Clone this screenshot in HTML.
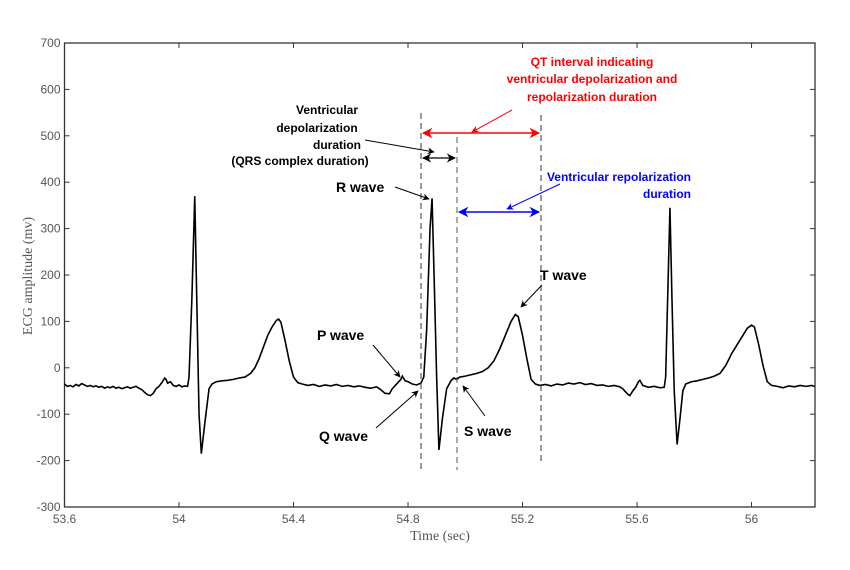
<!DOCTYPE html>
<html><head><meta charset="utf-8"><style>
body{margin:0;background:#fff;width:850px;height:570px;overflow:hidden}
svg{display:block;font-family:"Liberation Sans",sans-serif}
.tk{font-size:12px;fill:#555}
.an{font-size:12px;font-weight:bold}
.wl{font-size:14px;font-weight:bold}
</style></head><body>
<svg id="c" width="850" height="570">
<defs>
<marker id="ak" viewBox="0 0 10 10" refX="9" refY="5" markerWidth="9" markerHeight="7" orient="auto-start-reverse"><path d="M0,0 L10,5 L0,10 L3,5z" fill="#000"/></marker>
<marker id="ar" viewBox="0 0 10 10" refX="9" refY="5" markerWidth="9" markerHeight="7" orient="auto-start-reverse"><path d="M0,0 L10,5 L0,10 L3,5z" fill="#f00"/></marker>
<marker id="ab" viewBox="0 0 10 10" refX="9" refY="5" markerWidth="9" markerHeight="7" orient="auto-start-reverse"><path d="M0,0 L10,5 L0,10 L3,5z" fill="#00f"/></marker>
</defs>
<g id="axes"></g>
<path id="trace" fill="none" stroke="#000" stroke-width="1.6"/>
<g>
<line x1="421" y1="113" x2="421" y2="470" stroke="#333" stroke-dasharray="6,4"/>
<line x1="457" y1="137" x2="457" y2="470" stroke="#555" stroke-dasharray="6,4"/>
<line x1="541" y1="115" x2="541" y2="464" stroke="#333" stroke-dasharray="6,4"/>
<line x1="423" y1="133" x2="539" y2="133" stroke="#f00" stroke-width="1.5" marker-start="url(#ar)" marker-end="url(#ar)"/>
<line x1="512" y1="110" x2="472" y2="132" stroke="#f00" marker-end="url(#ar)"/>
<g fill="#f00" class="an" text-anchor="middle"><text x="592" y="66">QT interval indicating</text><text x="592" y="83">ventricular depolarization and</text><text x="592" y="101">repolarization duration</text></g>
<line x1="423" y1="158" x2="455" y2="158" stroke="#000" stroke-width="1.3" marker-start="url(#ak)" marker-end="url(#ak)"/>
<line x1="365" y1="140" x2="434" y2="152" stroke="#000" marker-end="url(#ak)"/>
<g class="an" text-anchor="middle"><text x="327" y="114">Ventricular</text><text x="317" y="132">depolarization</text><text x="337" y="149">duration</text><text x="300" y="165">(QRS complex duration)</text></g>
<line x1="459" y1="212" x2="539" y2="212" stroke="#00f" stroke-width="1.5" marker-start="url(#ab)" marker-end="url(#ab)"/>
<line x1="560" y1="184" x2="507" y2="209" stroke="#00f" marker-end="url(#ab)"/>
<g fill="#00f" class="an" text-anchor="end"><text x="691" y="181">Ventricular repolarization</text><text x="691" y="198">duration</text></g>
<text x="336" y="192" class="wl">R wave</text>
<line x1="395" y1="187" x2="429" y2="199" stroke="#000" marker-end="url(#ak)"/>
<text x="540" y="280" class="wl">T wave</text>
<line x1="542" y1="285" x2="521" y2="307" stroke="#000" marker-end="url(#ak)"/>
<text x="317" y="340" class="wl">P wave</text>
<line x1="373" y1="345" x2="400" y2="377" stroke="#000" marker-end="url(#ak)"/>
<text x="319" y="441" class="wl">Q wave</text>
<line x1="376" y1="428" x2="418" y2="391" stroke="#000" marker-end="url(#ak)"/>
<text x="464" y="436" class="wl">S wave</text>
<line x1="485" y1="416" x2="463" y2="386" stroke="#000" marker-end="url(#ak)"/>
</g>
</svg>
<script>
const xTicks=[53.6,54,54.4,54.8,55.2,55.6,56];
const yTicks=[-300,-200,-100,0,100,200,300,400,500,600,700];
const times=[53.600,53.610,53.620,53.630,53.640,53.650,53.660,53.670,53.680,53.690,53.700,53.710,53.720,53.730,53.740,53.750,53.760,53.770,53.780,53.790,53.800,53.810,53.820,53.830,53.840,53.850,53.860,53.870,53.880,53.890,53.900,53.910,53.920,53.930,53.940,53.950,53.955,53.960,53.970,53.980,53.990,54.000,54.010,54.020,54.030,54.035,54.045,54.055,54.062,54.070,54.078,54.090,54.105,54.115,54.130,54.150,54.170,54.190,54.210,54.230,54.250,54.265,54.280,54.295,54.310,54.325,54.340,54.348,54.356,54.370,54.385,54.400,54.415,54.430,54.450,54.470,54.490,54.510,54.530,54.550,54.570,54.590,54.610,54.630,54.650,54.670,54.690,54.700,54.710,54.720,54.735,54.745,54.760,54.775,54.780,54.790,54.800,54.815,54.830,54.845,54.855,54.865,54.877,54.884,54.891,54.900,54.908,54.920,54.935,54.950,54.960,54.970,54.980,55.000,55.020,55.040,55.060,55.080,55.100,55.120,55.140,55.160,55.175,55.185,55.200,55.215,55.230,55.245,55.260,55.280,55.300,55.320,55.340,55.360,55.380,55.400,55.420,55.440,55.460,55.480,55.500,55.520,55.540,55.550,55.560,55.570,55.575,55.585,55.595,55.605,55.610,55.620,55.640,55.660,55.680,55.695,55.700,55.707,55.715,55.722,55.730,55.740,55.750,55.760,55.770,55.790,55.810,55.830,55.850,55.870,55.890,55.910,55.930,55.950,55.970,55.985,56.000,56.010,56.025,56.040,56.055,56.070,56.090,56.110,56.130,56.150,56.170,56.190,56.210,56.220];
const values=[-35,-40,-38,-41,-36,-39,-34,-37,-40,-38,-41,-39,-42,-40,-44,-41,-43,-40,-44,-42,-45,-43,-41,-44,-42,-40,-44,-47,-53,-58,-60,-55,-45,-40,-32,-22,-25,-33,-30,-38,-40,-37,-41,-39,-40,-20,150,370,150,-100,-185,-120,-45,-35,-30,-28,-27,-25,-22,-20,-12,0,20,45,70,88,102,105,98,60,15,-20,-32,-35,-38,-36,-40,-37,-39,-36,-40,-38,-41,-39,-42,-44,-41,-45,-50,-55,-56,-45,-35,-25,-18,-28,-30,-35,-37,-33,-20,80,300,365,200,-20,-177,-110,-45,-28,-22,-25,-20,-18,-15,-12,-8,0,15,40,70,100,115,110,70,20,-25,-35,-38,-36,-39,-35,-37,-33,-35,-32,-36,-34,-38,-37,-40,-38,-41,-45,-52,-58,-60,-50,-42,-30,-27,-38,-42,-40,-43,-42,-20,150,345,150,-50,-165,-110,-50,-35,-30,-28,-25,-22,-18,-12,5,30,50,70,85,92,88,50,5,-30,-38,-40,-43,-39,-41,-38,-40,-38,-40];
const L=64.5,R=815,T=43,B=507,xMin=53.6,xMax=56.2217,yMin=-300,yMax=700;
const xs=v=>L+(v-xMin)/(xMax-xMin)*(R-L);
const ys=v=>B-(v-yMin)/(yMax-yMin)*(B-T);
const NS='http://www.w3.org/2000/svg';
const ax=document.getElementById('axes');
function mk(tag,at,txt){const e=document.createElementNS(NS,tag);for(const k in at)e.setAttribute(k,at[k]);if(txt!==undefined)e.textContent=txt;ax.appendChild(e);return e;}
const frame=mk('rect',{x:L,y:T,width:R-L,height:B-T,fill:'none',stroke:'#333','stroke-width':1.3});


xTicks.forEach(v=>{const x=xs(v);
mk('line',{x1:x,y1:B,x2:x,y2:B-5,stroke:'#333'});mk('line',{x1:x,y1:T,x2:x,y2:T+5,stroke:'#333'});
const t=mk('text',{x:x,y:B+16,'text-anchor':'middle',class:'tk'},String(v));

});
yTicks.forEach(v=>{const y=ys(v);
mk('line',{x1:L,y1:y,x2:L+5,y2:y,stroke:'#333'});mk('line',{x1:R,y1:y,x2:R-5,y2:y,stroke:'#333'});
const t=mk('text',{x:L-4,y:y+4,'text-anchor':'end',class:'tk'},String(v));

});
const xt=mk('text',{x:440,y:540,'text-anchor':'middle','font-family':'Liberation Serif,serif','font-size':14,fill:'#555'},'Time (sec)');


const yt=mk('text',{x:0,y:0,transform:'translate(32,276) rotate(-90)','text-anchor':'middle','font-family':'Liberation Serif,serif','font-size':14,fill:'#555'},'ECG amplitude (mv)');


let d='';times.forEach((t,i)=>{d+=(i?'L':'M')+xs(t).toFixed(2)+','+ys(values[i]).toFixed(2);});
document.getElementById('trace').setAttribute('d',d);
</script>
</body></html>
